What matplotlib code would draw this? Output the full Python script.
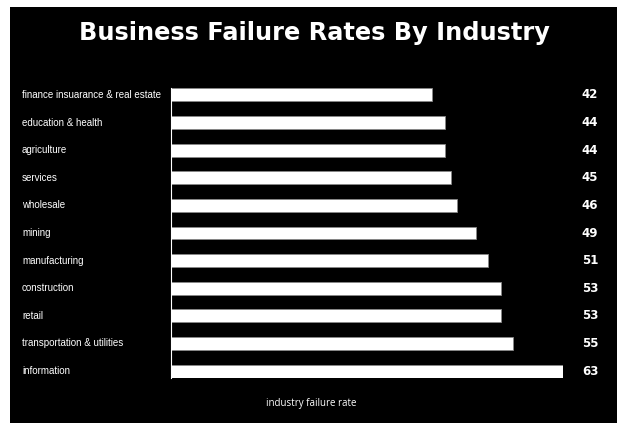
import matplotlib.pyplot as plt
from matplotlib.patches import Rectangle
import matplotlib.transforms as mtransforms

# data
industries = ["finance insuarance & real estate", "education & health", "agriculture",
              "services", "wholesale", "mining", "manufacturing", "construction",
              "retail", "transportation & utilities", "information"]
failure_rates = [42, 44, 44, 45, 46, 49, 51, 53, 53, 55, 63]

W, H = 617, 423
fig = plt.figure(figsize=(W / 100, H / 100), dpi=100, facecolor="white")

# black panel (white margin only on left and top)
fig.patches.append(Rectangle((10 / W, 0), 1, 1 - 7 / H, transform=fig.transFigure,
                             facecolor="black", edgecolor="none", zorder=-5))

fig.text(314 / W, 1 - 33 / H, "Business Failure Rates By Industry", ha="center", va="center",
         color="white", fontsize=17.3, fontweight="bold", family="DejaVu Sans")

bar_h = 0.47
ax_left, ax_right = 171 / W, 563 / W
ax_top, ax_bot = 88.5 / H, 377.5 / H
ax = fig.add_axes([ax_left, 1 - ax_bot, ax_right - ax_left, ax_bot - ax_top])
ax.set_facecolor("none")
ax.set_zorder(5)

pos = list(range(len(industries)))
ax.barh(pos, failure_rates, height=bar_h, color="white", edgecolor="#888888", linewidth=0.6)
ax.set_xlim(0, 63)
ax.set_ylim(len(industries) - 1 + bar_h / 2, -bar_h / 2)

for s in ["top", "right", "bottom"]:
    ax.spines[s].set_visible(False)
ax.spines["left"].set_color("white")
ax.spines["left"].set_linewidth(0.8)
ax.set_xticks([])
ax.set_yticks([])

trans = mtransforms.blended_transform_factory(fig.transFigure, ax.transData)
for i, (name, v) in enumerate(zip(industries, failure_rates)):
    fig.text(22 / W, i, name, transform=trans, ha="left", va="center",
             color="white", fontsize=7, family="Liberation Sans")
    fig.text(590 / W, i, str(v), transform=trans, ha="center", va="center",
             color="white", fontsize=8.5, fontweight="bold", family="DejaVu Sans")

fig.text(311 / W, 1 - 403 / H, "industry failure rate", ha="center", va="center",
         color="white", fontsize=7, family="Open Sans")

fig.savefig("out.png", dpi=100, facecolor="white")
